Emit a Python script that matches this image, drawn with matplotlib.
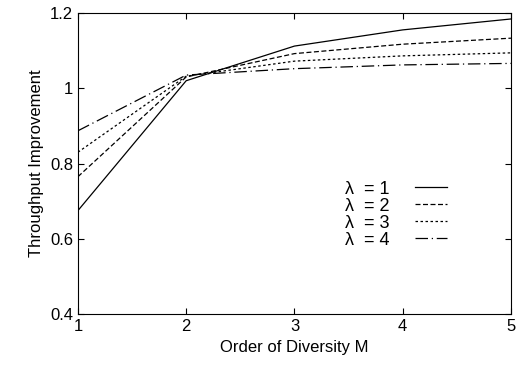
import matplotlib
matplotlib.use("Agg")
import matplotlib.pyplot as plt

plt.rcParams['font.family'] = ['Liberation Sans', 'DejaVu Sans']

# Data
order_m = [1, 2, 3, 4, 5]
lam1 = [0.675, 1.020, 1.112, 1.155, 1.184]
lam2 = [0.765, 1.030, 1.092, 1.117, 1.133]
lam3 = [0.830, 1.032, 1.072, 1.086, 1.094]
lam4 = [0.887, 1.035, 1.052, 1.062, 1.066]
series = [lam1, lam2, lam3, lam4]
labels = ['\u03bb  = 1', '\u03bb  = 2', '\u03bb  = 3', '\u03bb  = 4']
styles = ['-', (0, (4, 2)), (0, (2, 2)), (0, (10, 3, 1, 3))]

fig = plt.figure(figsize=(5.23, 3.70), dpi=100)
ax = fig.add_axes([0.149, 0.151, 0.828, 0.814])

for vals, lab, ls in zip(series, labels, styles):
    ax.plot(order_m, vals, color='black', linestyle=ls, linewidth=0.9, label=lab)

ax.set_xlim(1, 5)
ax.set_ylim(0.4, 1.2)
ax.set_xticks([1, 2, 3, 4, 5])
ax.set_yticks([0.4, 0.6, 0.8, 1.0, 1.2])
ax.set_yticklabels(['0.4', '0.6', '0.8', '1', '1.2'])
ax.tick_params(direction='in', top=True, right=True, labelsize=12, length=4)
ax.set_xlabel('Order of Diversity M', fontsize=12)
ax.set_ylabel('Throughput Improvement', fontsize=12)

ax.legend(loc='center right', bbox_to_anchor=(0.89, 0.33), frameon=False,
          markerfirst=False, fontsize=13, handlelength=1.8,
          labelspacing=0.0, handletextpad=1.4)

fig.savefig('out.png', dpi=100)
